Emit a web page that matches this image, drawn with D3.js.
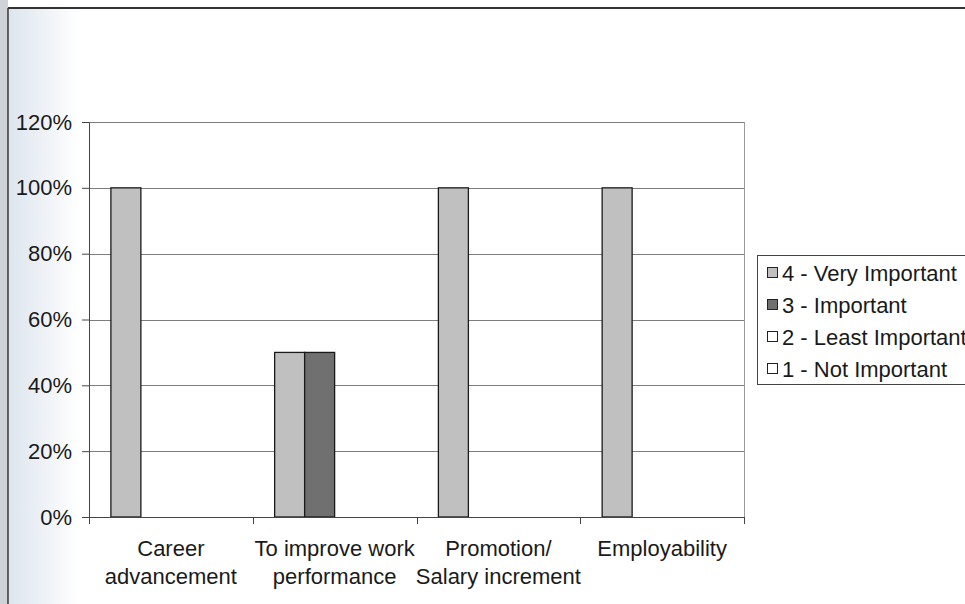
<!DOCTYPE html>
<html>
<head>
<meta charset="utf-8">
<script src="https://cdn.jsdelivr.net/npm/d3@7"></script>
<style>
  html, body { margin: 0; padding: 0; background: #fff; }
  svg { display: block; }
  text { font-family: "Liberation Sans", Arial, sans-serif; }
</style>
</head>
<body>
<svg id="chart" width="965" height="604"></svg>
<script>
// Reasons for attending training, share of responses by importance rating
const categories = [
  ["Career", "advancement"],
  ["To improve work", "performance"],
  ["Promotion/", "Salary increment"],
  ["Employability"]
];
const seriesNames = ["4 - Very Important", "3 - Important", "2 - Least Important", "1 - Not Important"];
const veryImportant  = [1.0, 0.5, 1.0, 1.0];
const important      = [0.0, 0.5, 0.0, 0.0];
const leastImportant = [0.0, 0.0, 0.0, 0.0];
const notImportant   = [0.0, 0.0, 0.0, 0.0];
const yTicks = [0, 0.2, 0.4, 0.6, 0.8, 1.0, 1.2];

const seriesValues = [veryImportant, important, leastImportant, notImportant];
const fills = ["#c0c0c0", "#707070", "#ffffff", "#ffffff"];
const FONT = 22;

const svg = d3.select("#chart");
const defs = svg.append("defs");

// Light shading toward the left edge of the page
const grad = defs.append("linearGradient").attr("id", "edge").attr("x1", 0).attr("x2", 1);
grad.append("stop").attr("offset", 0).attr("stop-color", "#dde5ee");
grad.append("stop").attr("offset", 1).attr("stop-color", "#ffffff");
svg.append("rect").attr("x", 0).attr("y", 0).attr("width", 965).attr("height", 604).attr("fill", "#fff");
svg.append("rect").attr("x", 0).attr("y", 0).attr("width", 8).attr("height", 604).attr("fill", "#cfd2d6");
svg.append("rect").attr("x", 9).attr("y", 9).attr("width", 70).attr("height", 595).attr("fill", "url(#edge)");

// Page frame
svg.append("line").attr("x1", 8).attr("x2", 965).attr("y1", 8).attr("y2", 8)
  .attr("stroke", "#333").attr("stroke-width", 2);
svg.append("line").attr("x1", 8).attr("x2", 8).attr("y1", 8).attr("y2", 604)
  .attr("stroke", "#333").attr("stroke-width", 1.5);

const plot = { left: 89, right: 744, top: 122, bottom: 517 };

const x = d3.scaleBand().domain(d3.range(categories.length))
  .range([plot.left, plot.right]).paddingInner(0).paddingOuter(0);
const inner = d3.scaleBand().domain(d3.range(seriesNames.length))
  .range([0, x.bandwidth()]).paddingOuter(0.73).paddingInner(0);
const y = d3.scaleLinear().domain([0, 1.2]).range([plot.bottom, plot.top]);

// Gridlines
svg.append("g").selectAll("line").data(yTicks.filter(d => d > 0)).join("line")
  .attr("x1", plot.left).attr("x2", plot.right)
  .attr("y1", d => Math.round(y(d)) + 0.5).attr("y2", d => Math.round(y(d)) + 0.5)
  .attr("stroke", "#7d7d7d").attr("stroke-width", 1);
// Right edge of plot area
svg.append("line").attr("x1", plot.right + 0.5).attr("x2", plot.right + 0.5)
  .attr("y1", plot.top).attr("y2", plot.bottom).attr("stroke", "#9a9a9a");

// Bars
const groups = svg.append("g").selectAll("g").data(categories).join("g")
  .attr("transform", (d, i) => `translate(${x(i)},0)`);
groups.selectAll("rect")
  .data((d, i) => seriesValues.map((vals, s) => ({ s, v: vals[i] })).filter(e => e.v > 0))
  .join("rect")
  .attr("x", e => inner(e.s))
  .attr("width", inner.bandwidth())
  .attr("y", e => y(e.v))
  .attr("height", e => y(0) - y(e.v))
  .attr("fill", e => fills[e.s])
  .attr("stroke", "#1a1a1a").attr("stroke-width", 1.3);

// Y axis
const yAxis = d3.axisLeft(y).tickValues(yTicks).tickFormat(d3.format(".0%")).tickSize(7).tickPadding(10);
const yg = svg.append("g").attr("transform", `translate(${plot.left},0)`).call(yAxis);
yg.select(".domain").attr("stroke", "#444");
yg.selectAll(".tick line").attr("stroke", "#444");
yg.selectAll(".tick text").attr("font-size", FONT).attr("fill", "#1a1a1a")
  .attr("font-family", "'Liberation Sans', Arial, sans-serif");

// X axis
const xAxis = d3.axisBottom(x).tickSize(0).tickFormat("");
const xg = svg.append("g").attr("transform", `translate(0,${plot.bottom})`).call(xAxis);
xg.select(".domain").attr("stroke", "#444");
const xTickPos = d3.range(categories.length + 1).map(i => plot.left + i * x.bandwidth());
svg.append("g").selectAll("line").data(xTickPos).join("line")
  .attr("x1", d => Math.round(d) + 0.5).attr("x2", d => Math.round(d) + 0.5)
  .attr("y1", plot.bottom).attr("y2", plot.bottom + 7).attr("stroke", "#444");

// Category labels
const labels = svg.append("g").selectAll("text").data(categories).join("text")
  .attr("text-anchor", "middle").attr("font-size", FONT).attr("fill", "#1a1a1a")
  .attr("x", (d, i) => x(i) + x.bandwidth() / 2)
  .attr("y", 556);
labels.selectAll("tspan").data(d => d).join("tspan")
  .attr("x", function () { return d3.select(this.parentNode).attr("x"); })
  .attr("dy", (d, i) => i === 0 ? 0 : 28)
  .text(d => d);

// Legend
const lg = svg.append("g");
lg.append("rect").attr("x", 757.5).attr("y", 255.5).attr("width", 220).attr("height", 129)
  .attr("fill", "#fff").attr("stroke", "#444");
const items = lg.selectAll("g").data(seriesNames).join("g")
  .attr("transform", (d, i) => `translate(767,${273 + i * 32})`);
items.append("rect").attr("x", 0.5).attr("y", -5.5).attr("width", 10).attr("height", 10)
  .attr("fill", (d, i) => fills[i]).attr("stroke", "#222");
items.append("text").attr("x", 15).attr("y", 8).attr("font-size", FONT).attr("fill", "#1a1a1a")
  .text(d => d);
</script>
</body>
</html>
